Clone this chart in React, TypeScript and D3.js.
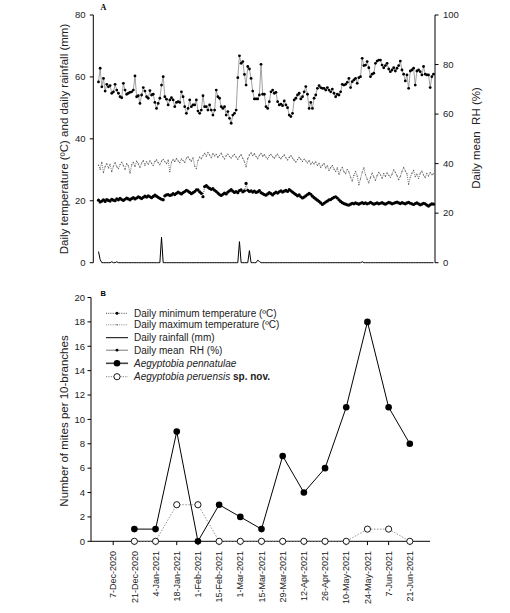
import React from 'react';
import * as d3 from 'd3';

// ---------- Panel A data (daily series) ----------
const rhValues = [
  73, 78.5, 71, 74.4, 69.3, 72, 71, 71.5, 68.4, 69, 72, 69.7, 68.4, 67, 66.6, 72.4, 69.7, 68, 68.4, 68.8,
  69, 69.7, 75.4, 67, 67.4, 64.3, 67.7, 70.7, 69.3, 67, 66.4, 69.5, 67.7, 68, 64.7, 62.3, 64.3, 66.4, 71.7, 75.1,
  67, 66, 63.7, 65.7, 66.6, 65.7, 63, 64.7, 65, 64.7, 69, 67, 63, 60.3, 62.3, 65.7, 63, 63.7, 63.7, 65.7,
  61.2, 60.3, 61.6, 67.4, 63, 63, 61.6, 63.7, 61.6, 59.6, 61.6, 69.7, 67, 66.4, 63, 62.3, 63, 59.6, 61, 58.3,
  56.3, 59.6, 60.3, 61.6, 74.7, 83.5, 80.5, 81.2, 76, 71.7, 79.2, 78.2, 74.4, 69.3, 66.1, 66.1, 66.1, 67.7, 80.1, 68,
  68, 63, 62.3, 65, 69, 69.7, 68.4, 68.8, 65, 63.7, 64, 63.4, 65.3, 63.7, 62.6, 59.6, 59, 60.3, 65.7, 66.4,
  67.7, 68.4, 66.1, 67, 69, 71.1, 68, 62.3, 64.7, 62.3, 66.4, 67.7, 70.4, 71.5, 70.7, 70.4, 70.4, 69.7, 70.7, 69.7,
  69, 70.1, 68.4, 67, 68, 67.7, 69, 72, 71.7, 72, 72.8, 74.4, 70.7, 73.1, 73.8, 74.4, 72.4, 74.7, 75.1, 82.5,
  79.6, 79.8, 81.2, 78.7, 75.1, 76.1, 76.5, 80.5, 81.4, 81.8, 81.8, 79.8, 78.7, 79.6, 80.5, 78.2, 77.1, 77.8, 78.7, 77.4,
  78.5, 79.6, 81.4, 77.8, 76.1, 73.4, 75.8, 70.4, 77.4, 77.8, 78.5, 71.7, 77.4, 77.8, 77.1, 75.8, 79.2, 76.1, 75.8, 75.8,
  70.7, 75.1, 76.1,
];

const minTemp = [
  20.2, 19.6, 19.9, 20.3, 19.8, 20.4, 20.1, 19.9, 20.5, 20.2,
  20.0, 20.6, 20.3, 20.8, 20.4, 20.1, 20.5, 20.9, 20.6, 20.3,
  20.7, 21.0, 20.6, 20.9, 21.3, 21.0, 20.7, 21.1, 21.5, 21.2,
  21.6, 21.3, 21.0, 21.4, 21.8, 21.5, 21.1, 20.8, 20.5, 20.3,
  21.6, 21.9, 22.0, 21.7, 21.9, 22.3, 22.0, 22.4, 22.8, 22.5,
  22.2, 22.6, 23.0, 23.4, 23.1, 22.7, 22.3, 22.6, 23.0, 23.5,
  23.5, 22.9, 22.4, 21.3, 24.6, 24.9, 24.4, 24.0, 23.7, 23.9,
  23.4, 23.0, 22.5, 22.0, 21.7, 22.1, 22.5, 22.2, 22.8, 23.2,
  23.6, 23.1, 22.7, 23.0, 22.6, 23.3, 23.5, 22.9, 23.2, 25.6,
  23.4, 23.0, 23.2, 22.8, 23.1, 22.7, 22.9, 23.3, 22.6, 22.3,
  22.0, 21.8, 22.2, 22.6, 22.3, 21.9, 22.4, 22.8, 22.5, 22.9,
  23.2, 22.8, 23.1, 23.4, 23.0, 23.6, 23.2, 22.8, 22.4, 22.0,
  21.6, 21.9, 21.3, 20.9, 21.2, 21.6, 22.0, 22.4, 22.1, 21.5,
  21.0, 20.6, 20.2, 19.8, 19.3, 18.8, 19.2, 19.6, 19.9, 20.3,
  20.4, 20.8, 21.1, 21.3, 20.9, 20.3, 19.8, 19.4, 19.1, 18.9,
  18.7, 18.6, 18.9, 19.2, 19.0, 19.3, 19.1, 18.9, 19.2, 19.4,
  19.1, 19.3, 19.0, 19.2, 19.5, 19.2, 18.9, 19.1, 19.3, 19.0,
  19.2, 19.4, 19.1, 18.9, 19.2, 19.5, 19.3, 19.0, 19.2, 19.4,
  19.6, 19.3, 19.1, 19.4, 19.2, 19.0, 19.3, 19.5, 19.2, 19.0,
  18.8, 19.1, 19.3, 19.0, 18.7, 18.9, 19.2, 19.0, 18.6, 18.3,
  18.7, 19.0, 18.9,
];

const maxTemp = [
  31.5, 30.2, 32.4, 29.1, 31.0, 32.0, 30.6, 31.8, 29.4, 31.2,
  32.3, 31.0, 30.4, 31.7, 32.5, 31.4, 30.1, 32.0, 31.3, 29.0,
  31.6, 32.4, 31.1, 32.8, 31.9, 30.8, 32.2, 33.0, 31.5, 32.6,
  31.8, 32.9, 32.1, 31.4, 32.7, 33.2, 32.3, 31.6, 32.8, 33.4,
  32.6, 32.0, 33.1, 29.4, 32.5, 33.3, 32.7, 33.6, 32.9, 32.3,
  33.5, 33.0, 32.4, 33.8, 34.2, 33.3, 32.8, 33.9, 31.2, 30.4,
  33.0, 34.1, 33.6, 34.6, 35.3, 34.4, 35.6, 34.8, 33.9, 35.2,
  34.5, 35.0, 34.0, 34.7, 35.4, 34.2, 33.5, 34.6, 35.1, 34.3,
  33.8, 34.5, 35.0, 34.1, 33.4, 34.3, 34.9, 33.7, 32.6, 31.0,
  33.6, 34.8, 35.5, 34.6, 35.2, 34.3, 33.6, 34.7, 35.3, 34.4,
  34.9, 34.1, 33.5, 34.6, 35.0, 34.2, 33.8, 34.5, 35.1, 34.0,
  33.6, 34.3, 34.8, 33.9, 33.2, 34.0, 34.6, 33.8, 33.1, 32.5,
  33.3, 34.0, 33.4, 32.7, 33.5, 32.9, 32.2, 33.0, 31.8, 32.5,
  31.9, 32.6, 31.4, 32.1, 30.8, 31.5, 32.0, 30.6, 31.3, 29.8,
  30.7, 31.4, 30.2, 29.5, 30.6, 28.6, 29.9, 30.8, 29.4, 28.8,
  30.1, 29.3, 27.6, 26.4, 28.2, 29.5, 28.0, 25.2, 27.1, 29.3,
  30.6, 28.4, 27.0, 25.8, 27.5, 28.9, 27.7, 26.6, 28.1, 29.2,
  28.4, 27.3, 28.8, 27.9, 29.0, 28.3, 27.6, 28.6, 30.0, 29.2,
  28.1, 26.8, 27.9, 29.4, 30.8, 29.6, 28.7, 25.3, 27.6, 28.9,
  29.8, 27.8, 28.6, 27.2, 28.9, 29.6, 28.3, 27.5, 28.8, 28.0,
  29.1, 28.4, 28.7,
];

// rainfall: day index of each rainy day and its amount (mm); all other days 0
const rainDays = [0, 1, 8, 11, 38, 85, 91, 96, 97, 159];
const rainMm = [3.6, 1.0, 0.3, 0.3, 8.2, 6.8, 3.9, 0.8, 0.4, 0.3];

const leftTicks = [0, 20, 40, 60, 80];
const rightTicks = [0, 20, 40, 60, 80, 100];

// ---------- Panel B data ----------
const tickDates = [
  '7-Dec-2020', '21-Dec-2020', '4-Jan-2021', '18-Jan-2021', '1-Feb-2021', '15-Feb-2021', '1-Mar-2021',
  '15-Mar-2021', '29-Mar-2021', '12-Apr-2021', '26-Apr-2021', '10-May-2021', '24-May-2021', '7-Jun-2021', '21-Jun-2021',
];
const sampleDates = tickDates.slice(1);
const pennatulae = [1, 1, 9, 0, 3, 2, 1, 7, 4, 6, 11, 18, 11, 8];
const peruensis = [0, 0, 3, 3, 0, 0, 0, 0, 0, 0, 0, 1, 1, 0];
const countTicks = [0, 2, 4, 6, 8, 10, 12, 14, 16, 18, 20];

const FONT = "'Liberation Sans', Arial, sans-serif";

export default function App() {
  const W = 510, H = 613;

  // Panel A scales
  const xFor = (len: number) => d3.scaleLinear().domain([0, len - 1]).range([98.5, 433.5]);
  const yLeft = d3.scaleLinear().domain([0, 80]).range([262.7, 15]);
  const yRight = d3.scaleLinear().domain([0, 100]).range([262.7, 15]);
  const rain = d3.range(rhValues.length).map((i) => {
    const k = rainDays.indexOf(i);
    return k >= 0 ? rainMm[k] : 0;
  });

  const xRH = xFor(rhValues.length);
  const xMax = xFor(maxTemp.length);
  const xMin = xFor(minTemp.length);
  const xRain = xFor(rain.length);

  const lineRH = d3.line<number>().x((_, i) => xRH(i)).y((d) => yRight(d));
  const lineMax = d3.line<number>().x((_, i) => xMax(i)).y((d) => yLeft(d));
  const lineMin = d3.line<number>().x((_, i) => xMin(i)).y((d) => yLeft(d));
  const lineRain = d3.line<number>().x((_, i) => xRain(i)).y((d) => yLeft(d));

  // Panel B scales
  const xB = d3.scalePoint<string>().domain(tickDates).range([92, 431]).padding(1);
  const yB = d3.scaleLinear().domain([0, 20]).range([541.3, 297.5]);
  const lineB = d3.line<number>().x((_, i) => xB(sampleDates[i]) as number).y((d) => yB(d));

  const axL = 93.3, axR = 435, axB = 91;

  const legendRows = [
    'Daily minimum temperature (ºC)',
    'Daily maximum temperature (ºC)',
    'Daily rainfall (mm)',
    'Daily mean\u00A0 RH (%)',
  ];
  const legY = [313.3, 324.8, 337.7, 350.2, 363.3, 376.7];

  return (
    <svg width={W} height={H} style={{ position: 'absolute', left: 0, top: 0, background: '#fff' }}
      fontFamily={FONT}>
      <rect x={0} y={0} width={W} height={H} fill="#fff" />

      {/* ---------------- Panel A ---------------- */}
      <text x={100.5} y={10.2} fontFamily="'Liberation Serif', serif" fontWeight="bold" fontSize={8}>A</text>

      {/* left axis */}
      <line x1={axL} x2={axL} y1={yLeft(80)} y2={yLeft(0)} stroke="#000" strokeWidth={1} />
      {leftTicks.map((t) => (
        <g key={'lt' + t}>
          <line x1={axL - 3.5} x2={axL} y1={yLeft(t)} y2={yLeft(t)} stroke="#000" />
          <text x={85.5} y={yLeft(t)} dy="0.35em" textAnchor="end" fontSize={9.5} fill="#222">{t}</text>
        </g>
      ))}
      <text transform={`translate(67.5,${139}) rotate(-90)`} textAnchor="middle" fontSize={11.5} fill="#222">
        Daily temperature (ºC) and daily rainfall (mm)
      </text>

      {/* right axis */}
      <line x1={axR} x2={axR} y1={yRight(100)} y2={yRight(0)} stroke="#000" strokeWidth={1} />
      {rightTicks.map((t) => (
        <g key={'rt' + t}>
          <line x1={axR} x2={axR + 3.5} y1={yRight(t)} y2={yRight(t)} stroke="#000" />
          <text x={443} y={yRight(t)} dy="0.35em" textAnchor="start" fontSize={9.5} fill="#222">{t}</text>
        </g>
      ))}
      <text transform={`translate(480,${138}) rotate(-90)`} textAnchor="middle" fontSize={11.5} fill="#222">
        {'Daily mean\u00A0 RH (%)'}
      </text>

      {/* rainfall */}
      <path d={lineRain(rain) || ''} fill="none" stroke="#000" strokeWidth={1} />

      {/* max temp */}
      <path d={lineMax(maxTemp) || ''} fill="none" stroke="#666" strokeWidth={0.9} strokeDasharray="1,1" />
      {maxTemp.map((d, i) => (
        <circle key={'mx' + i} cx={xMax(i)} cy={yLeft(d)} r={0.6} fill="#555" />
      ))}

      {/* min temp */}
      <path d={lineMin(minTemp) || ''} fill="none" stroke="#333" strokeWidth={0.8} strokeDasharray="1,1" />
      {minTemp.map((d, i) => (
        <circle key={'mn' + i} cx={xMin(i)} cy={yLeft(d)} r={1.6} fill="#000" />
      ))}

      {/* RH */}
      <path d={lineRH(rhValues) || ''} fill="none" stroke="#888" strokeWidth={0.8} />
      {rhValues.map((d, i) => (
        <circle key={'rh' + i} cx={xRH(i)} cy={yRight(d)} r={1.4} fill="#000" />
      ))}

      {/* ---------------- Panel B ---------------- */}
      <text x={100.5} y={295.8} fontWeight="bold" fontSize={7.5}>B</text>

      {/* y axis */}
      <line x1={axB} x2={axB} y1={yB(20)} y2={yB(0)} stroke="#000" />
      {countTicks.map((t) => (
        <g key={'ct' + t}>
          <line x1={axB - 3.5} x2={axB} y1={yB(t)} y2={yB(t)} stroke="#000" />
          <text x={85} y={yB(t)} dy="0.35em" textAnchor="end" fontSize={9.5} fill="#222">{t}</text>
        </g>
      ))}
      <text transform={`translate(67.5,${421}) rotate(-90)`} textAnchor="middle" fontSize={11.5} fill="#222">
        Number of mites per 10-branches
      </text>

      {/* x axis */}
      <line x1={axB} x2={430} y1={yB(0)} y2={yB(0)} stroke="#000" />
      {tickDates.map((t) => (
        <g key={'xt' + t}>
          <line x1={xB(t)} x2={xB(t)} y1={yB(0)} y2={yB(0) + 3.8} stroke="#000" />
          <text transform={`translate(${xB(t)},551) rotate(-90)`} dy="0.35em" textAnchor="end" fontSize={9} fill="#222">{t}</text>
        </g>
      ))}

      {/* A. peruensis */}
      <path d={lineB(peruensis) || ''} fill="none" stroke="#888" strokeWidth={0.9} strokeDasharray="1.5,1.5" />
      {/* A. pennatulae */}
      <path d={lineB(pennatulae) || ''} fill="none" stroke="#000" strokeWidth={1} />
      {peruensis.map((d, i) => (
        <circle key={'pe' + i} cx={xB(sampleDates[i])} cy={yB(d)} r={3.1} fill="#fff" stroke="#000" strokeWidth={0.9} />
      ))}
      {pennatulae.map((d, i) => (
        <circle key={'pn' + i} cx={xB(sampleDates[i])} cy={yB(d)} r={3.3} fill="#000" />
      ))}

      {/* legend */}
      <g>
        {/* row 1 min temp */}
        <line x1={106} x2={128} y1={legY[0]} y2={legY[0]} stroke="#333" strokeWidth={0.9} strokeDasharray="1,1.2" />
        <circle cx={117} cy={legY[0]} r={1.5} fill="#000" />
        {/* row 2 max temp */}
        <line x1={106} x2={128} y1={legY[1]} y2={legY[1]} stroke="#777" strokeWidth={0.9} strokeDasharray="1,1.2" />
        <circle cx={117} cy={legY[1]} r={0.7} fill="#555" />
        {/* row 3 rainfall */}
        <line x1={106} x2={128} y1={legY[2]} y2={legY[2]} stroke="#000" strokeWidth={1} />
        {/* row 4 RH */}
        <line x1={106} x2={128} y1={legY[3]} y2={legY[3]} stroke="#555" strokeWidth={0.8} />
        <circle cx={117} cy={legY[3]} r={1.4} fill="#000" />
        {legendRows.map((t, i) => (
          <text key={'lg' + i} x={134} y={legY[i]} dy="0.35em" fontSize={10} fill="#222">{t}</text>
        ))}
        {/* row 5 pennatulae */}
        <line x1={106} x2={128} y1={legY[4]} y2={legY[4]} stroke="#444" strokeWidth={1.6} />
        <circle cx={117} cy={legY[4]} r={3.3} fill="#000" />
        <text x={134} y={legY[4]} dy="0.35em" fontSize={10} fill="#222" fontStyle="italic">Aegyptobia pennatulae</text>
        {/* row 6 peruensis */}
        <line x1={106} x2={128} y1={legY[5]} y2={legY[5]} stroke="#777" strokeWidth={0.9} strokeDasharray="1.2,1.2" />
        <circle cx={117} cy={legY[5]} r={3.1} fill="#fff" stroke="#000" strokeWidth={0.9} />
        <text x={134} y={legY[5]} dy="0.35em" fontSize={10} fill="#222">
          <tspan fontStyle="italic">Aegyptobia peruensis</tspan>
          <tspan fontWeight="bold"> sp. nov.</tspan>
        </text>
      </g>
    </svg>
  );
}
